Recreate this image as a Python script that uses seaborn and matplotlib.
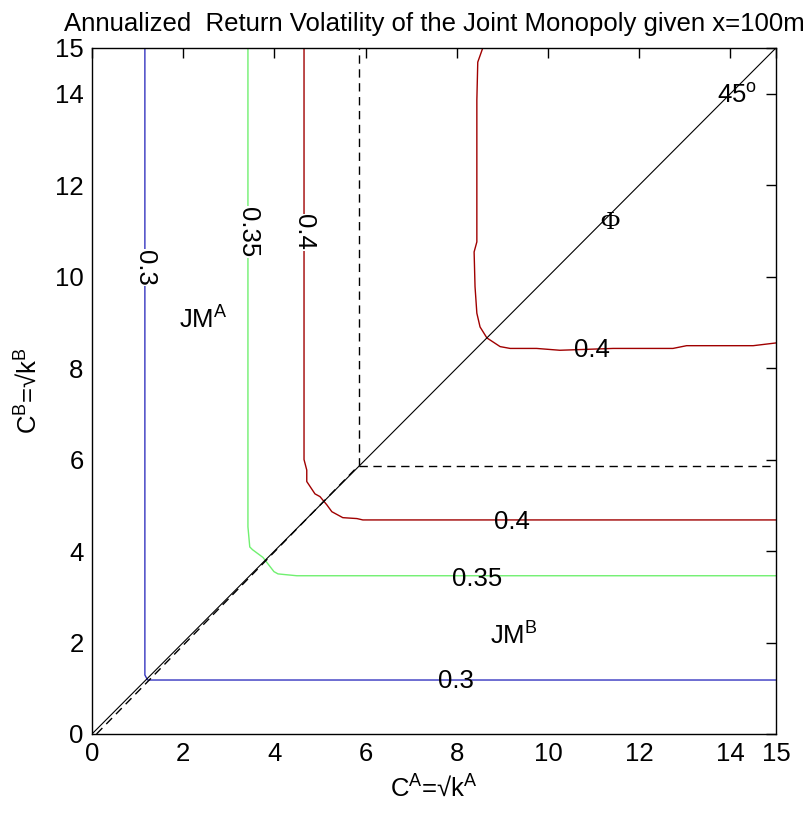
import numpy as np
import pandas as pd
import seaborn as sns
import matplotlib.pyplot as plt

# contour level paths (x = C^A, y = C^B)
lvl_03_x = [1.16, 1.16, 1.22, 15.0]
lvl_03_y = [15.0, 1.29, 1.18, 1.18]

lvl_035_x = [3.42, 3.42, 3.46, 3.52, 3.75, 3.99, 4.08, 4.49, 15.0]
lvl_035_y = [15.0, 4.53, 4.09, 4.03, 3.86, 3.55, 3.50, 3.46, 3.46]

lvl_04a_x = [4.65, 4.65, 4.71, 4.71, 4.89, 5.00, 5.15, 5.26, 5.50, 5.81, 5.94, 15.0]
lvl_04a_y = [15.0, 6.00, 5.77, 5.52, 5.25, 5.19, 5.01, 4.86, 4.73, 4.71, 4.68, 4.68]

lvl_04b_x = [8.57, 8.46, 8.44, 8.44, 8.38, 8.40, 8.44, 8.51, 8.66, 8.95, 9.17,
             9.75, 10.26, 11.43, 12.74, 13.04, 14.50, 15.0]
lvl_04b_y = [15.0, 14.69, 13.86, 10.76, 10.54, 9.78, 9.20, 8.90, 8.66, 8.47, 8.43,
             8.43, 8.39, 8.43, 8.43, 8.49, 8.49, 8.55]

diag_x = [0, 2.5, 8.5, 15]
diag_y = [0, 2.5, 8.5, 15]

# dashed boundary of the joint monopoly region
phi_x = [0.10, 5.84]
phi_y = [0.00, 5.86]
phi_cut = 5.85

level_names = ['0.3', '0.35', '0.4']
level_colors = ['#3535c0', '#70f070', '#a00000']

sns.set_style('white')
plt.rcParams['font.family'] = ['Liberation Sans', 'DejaVu Sans']
plt.rcParams['mathtext.fontset'] = 'custom'
plt.rcParams['mathtext.rm'] = 'Liberation Sans'
plt.rcParams['mathtext.it'] = 'Liberation Sans:italic'
plt.rcParams['font.size'] = 18.5
plt.rcParams['text.color'] = 'black'
plt.rcParams['axes.labelcolor'] = 'black'
plt.rcParams['xtick.color'] = 'black'
plt.rcParams['ytick.color'] = 'black'

fig = plt.figure(figsize=(8.09, 8.14), dpi=100)
ax = fig.add_axes([0.1137, 0.0983, 0.8455, 0.8428])

paths = [
    (lvl_03_x, lvl_03_y, level_colors[0]),
    (lvl_035_x, lvl_035_y, level_colors[1]),
    (lvl_04a_x, lvl_04a_y, level_colors[2]),
    (lvl_04b_x, lvl_04b_y, level_colors[2]),
]
for px, py, c in paths:
    df = pd.DataFrame({'x': px, 'y': py})
    sns.lineplot(data=df, x='x', y='y', sort=False, estimator=None,
                 color=c, linewidth=1.0, ax=ax)

sns.lineplot(x=diag_x, y=diag_y, sort=False, estimator=None,
             color='black', linewidth=0.8, ax=ax)
dash = (0, (6, 4))
sns.lineplot(x=phi_x, y=phi_y, sort=False, estimator=None,
             color='black', linewidth=1.0, linestyle=dash, ax=ax)
ax.plot([phi_cut, phi_cut], [phi_cut, 15], color='black', lw=1.0, ls=dash)
ax.plot([phi_cut, 15], [phi_cut, phi_cut], color='black', lw=1.0, ls=dash)

# contour labels
box = dict(facecolor='white', edgecolor='none', pad=0.5)
ax.text(1.16, 10.2, level_names[0], rotation=-90, ha='center', va='center', bbox=box)
ax.text(3.42, 10.97, level_names[1], rotation=-90, ha='center', va='center', bbox=box)
ax.text(4.65, 10.97, level_names[2], rotation=-90, ha='center', va='center', bbox=box)
ax.text(10.96, 8.40, level_names[2], ha='center', va='center')
ax.text(9.21, 4.63, level_names[2], ha='center', va='center')
ax.text(8.45, 3.39, level_names[1], ha='center', va='center')
ax.text(7.98, 1.16, level_names[0], ha='center', va='center')

ax.text(1.91, 8.87, r'JM$^\mathrm{A}$', ha='left', va='baseline')
ax.text(8.73, 1.95, r'JM$^\mathrm{B}$', ha='left', va='baseline')
ax.text(11.36, 11.17, 'Φ', ha='center', va='center',
        family=['Liberation Serif', 'DejaVu Serif'], fontsize=19)
ax.text(13.7, 13.79, r'45$^\mathrm{o}$', ha='left', va='baseline')

ax.set_xlim(0, 15)
ax.set_ylim(0, 15)
ticks = [0, 2, 4, 6, 8, 10, 12, 14, 15]
ax.set_xticks(ticks)
ax.set_yticks(ticks)
ax.tick_params(direction='in', length=7, width=1, top=True, right=True,
               labelsize=18.5, pad=6)
for s in ax.spines.values():
    s.set_visible(True)
    s.set_linewidth(1.0)
    s.set_color('black')

ax.set_xlabel(r'C$^\mathrm{A}$=√k$^\mathrm{A}$', labelpad=6)
ax.set_ylabel(r'C$^\mathrm{B}$=√k$^\mathrm{B}$', labelpad=10)
ax.set_title('Annualized  Return Volatility of the Joint Monopoly given x=100m',
             fontsize=18.5, pad=12)

fig.savefig('out.png', dpi=100)
